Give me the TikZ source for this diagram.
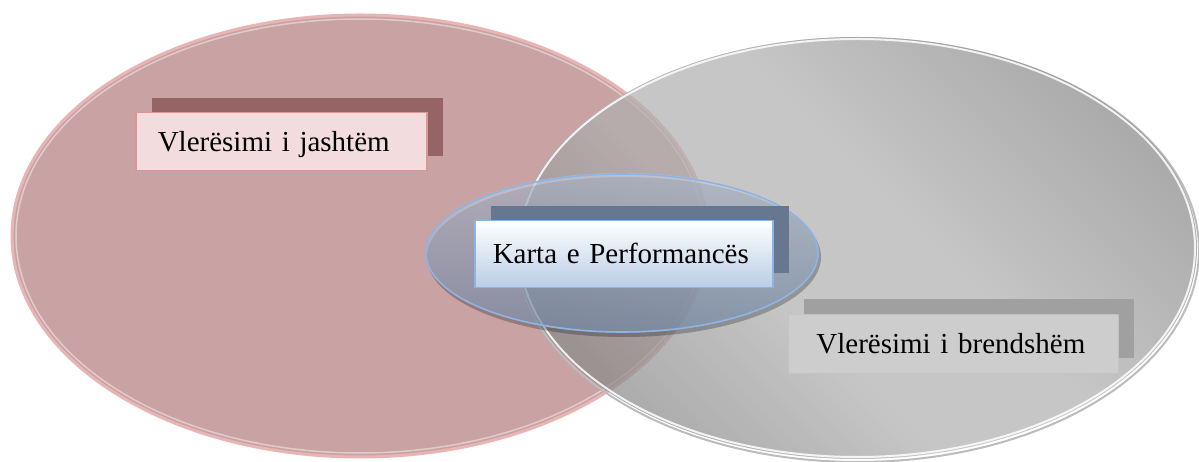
\documentclass[tikz,border=0pt]{standalone}
\usepackage{fontspec}
\setmainfont{Liberation Serif}
\usetikzlibrary{shadows}

\definecolor{rosefill}{HTML}{C9A2A4}
\definecolor{roseline}{HTML}{E8B4B4}
\definecolor{roseshadow}{HTML}{956464}
\definecolor{roseboxline}{HTML}{D99694}
\definecolor{rosebox}{HTML}{F2DCDD}
\definecolor{greylight}{HTML}{B0B0B0}
\definecolor{greydark}{HTML}{858585}
\definecolor{greyshadow}{HTML}{A0A0A0}
\definecolor{greybox}{HTML}{CDCDCD}
\definecolor{bluetop}{HTML}{C5D0E2}
\definecolor{bluebottom}{HTML}{7F98BA}
\definecolor{blueline}{HTML}{8EB4E3}
\definecolor{blueshadow}{HTML}{66778F}
\definecolor{blueboxbottom}{HTML}{B9CDE5}

\pgfdeclarehorizontalshading{greyband}{100bp}{color(0bp)=(greydark); color(22bp)=(greydark);
  color(42bp)=(greylight); color(55bp)=(greylight); color(78bp)=(greydark); color(100bp)=(greydark)}

\begin{document}
\begin{tikzpicture}[x=1pt,y=1pt]
  \tikzset{
    labelbox/.style={rectangle, inner sep=0pt, anchor=north west,
      font=\fontsize{29}{34}\selectfont, align=left,
      text height=19pt, text depth=0pt},
    backshadow/.style={general shadow={fill=#1, shadow xshift=16pt, shadow yshift=15pt}}
  }
  \useasboundingbox (0,0) rectangle (1199,-462);

  % left set
  \draw [roseline, line width=3pt, fill=rosefill] (360,-236) ellipse (348 and 221);
  \draw [white, opacity=.45, line width=1.5pt] (360,-236) ellipse (344 and 217);

  % right set
  \draw [greyshadow!70, line width=2pt] (858,-250) ellipse (341 and 212);
  \shade [shading=greyband, shading angle=45, fill opacity=.72]
    (857,-248) ellipse (340 and 211);
  \draw [white, opacity=.85, line width=2pt] (857,-248) ellipse (338 and 209);

  % middle set
  \fill [black, opacity=.25] (624,-257) ellipse (197 and 80);
  \shade [top color=bluetop, bottom color=bluebottom, fill opacity=.6]
    (622,-253) ellipse (197 and 80);
  \draw [blueline, line width=1.6pt] (622,-253) ellipse (196 and 79);

  \node (jashtem) [labelbox, backshadow=roseshadow, fill=rosebox,
    draw=roseboxline, line width=1.5pt, minimum width=291pt, minimum height=58pt,
    text width=247pt, inner xsep=22pt] at (135,-112) {Vlerësimi i jashtëm};

  \node (karta) [labelbox, backshadow=blueshadow, top color=white,
    bottom color=blueboxbottom, draw=blueline, line width=1.5pt,
    minimum width=298pt, minimum height=67pt,
    text width=262pt, inner xsep=18pt] at (474,-220) {Karta e Performancës};

  \node (brendshem) [labelbox, backshadow=greyshadow, fill=greybox,
    draw=greybox!95!black, line width=.8pt, minimum width=330pt, minimum height=59pt,
    text width=274pt, inner xsep=28pt] at (788,-314) {Vlerësimi i brendshëm};
\end{tikzpicture}
\end{document}
